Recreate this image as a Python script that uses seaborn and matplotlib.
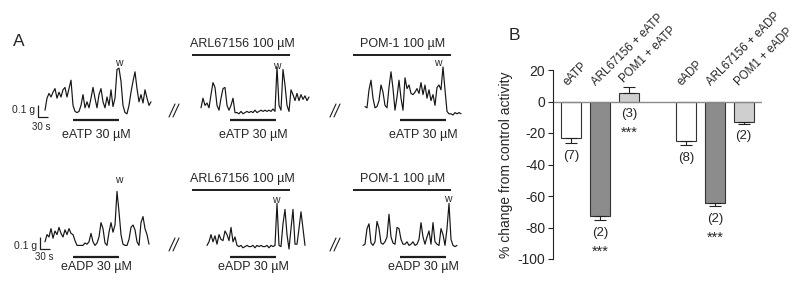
import numpy as np
import pandas as pd
import matplotlib
matplotlib.use("Agg")
import matplotlib.pyplot as plt
import seaborn as sns

sns.set_theme(style="ticks")
plt.rcParams["font.family"] = ["Liberation Sans", "DejaVu Sans"]
plt.rcParams["axes.unicode_minus"] = False

# ---- panel A: isometric tension traces (g), one sample every 6 s
dt = 6
atp_ctrl = [0.04, 0.14, 0.18, 0.15, 0.19, 0.22, 0.14, 0.19, 0.15, 0.21, 0.23, 0.15, 0.22, 0.29,
            0.08, 0.03, 0.02, 0.03, 0.08, 0.17, 0.06, 0.11, 0.06, 0.14, 0.23, 0.14, 0.06, 0.17,
            0.22, 0.11, 0.06, 0.15, 0.08, 0.21, 0.07, 0.14, 0.38, 0.39, 0.28, 0.08, 0.02, 0.01,
            0.08, 0.19, 0.28, 0.36, 0.22, 0.11, 0.17, 0.10, 0.21, 0.14, 0.08, 0.11]
atp_arl = [0.06, 0.14, 0.08, 0.10, 0.06, 0.17, 0.27, 0.23, 0.08, 0.04, 0.14, 0.22, 0.23, 0.08,
           0.04, 0.08, 0.14, 0.02, 0.02, 0.01, 0.03, 0.01, 0.02, 0.03, 0.02, 0.03, 0.02, 0.04,
           0.02, 0.03, 0.04, 0.03, 0.04, 0.03, 0.04, 0.03, 0.05, 0.03, 0.40, 0.08, 0.04, 0.38,
           0.25, 0.08, 0.03, 0.21, 0.17, 0.12, 0.18, 0.12, 0.17, 0.13, 0.16, 0.12, 0.15]
atp_pom = [0.07, 0.06, 0.21, 0.29, 0.14, 0.06, 0.07, 0.12, 0.25, 0.19, 0.08, 0.06, 0.23, 0.36,
           0.22, 0.04, 0.15, 0.29, 0.14, 0.04, 0.31, 0.22, 0.25, 0.18, 0.17, 0.19, 0.22, 0.18,
           0.27, 0.17, 0.25, 0.14, 0.21, 0.12, 0.17, 0.08, 0.23, 0.25, 0.21, 0.40, 0.21, 0.03,
           0.01, 0.01, 0.00, 0.02, 0.01, 0.02, 0.01]
adp_ctrl = [0.06, 0.12, 0.10, 0.17, 0.09, 0.15, 0.12, 0.18, 0.13, 0.10, 0.16, 0.12, 0.17, 0.13,
            0.12, 0.07, 0.03, 0.03, 0.03, 0.03, 0.05, 0.04, 0.06, 0.13, 0.06, 0.03, 0.05, 0.10,
            0.22, 0.17, 0.05, 0.03, 0.14, 0.22, 0.14, 0.20, 0.48, 0.31, 0.12, 0.04, 0.03, 0.03,
            0.08, 0.18, 0.20, 0.16, 0.06, 0.03, 0.22, 0.27, 0.17, 0.12, 0.04]
adp_arl = [0.03, 0.06, 0.12, 0.06, 0.11, 0.04, 0.12, 0.08, 0.07, 0.15, 0.12, 0.07, 0.18, 0.06,
           0.10, 0.03, 0.02, 0.03, 0.01, 0.02, 0.03, 0.02, 0.02, 0.03, 0.01, 0.03, 0.02, 0.03,
           0.02, 0.02, 0.03, 0.01, 0.03, 0.02, 0.03, 0.38, 0.03, 0.02, 0.21, 0.33, 0.12, 0.00,
           0.17, 0.33, 0.04, 0.04, 0.17, 0.31, 0.17, 0.03]
adp_pom = [0.03, 0.04, 0.17, 0.21, 0.05, 0.03, 0.06, 0.23, 0.17, 0.05, 0.04, 0.06, 0.10, 0.29,
           0.10, 0.05, 0.04, 0.18, 0.17, 0.08, 0.04, 0.04, 0.06, 0.03, 0.04, 0.06, 0.03, 0.04,
           0.08, 0.22, 0.10, 0.04, 0.10, 0.15, 0.04, 0.22, 0.06, 0.04, 0.03, 0.17, 0.12, 0.03,
           0.17, 0.38, 0.08, 0.03, 0.02, 0.03]

# ---- panel B: % change from control activity
conditions = ["eATP", "ARL67156 + eATP", "POM1 + eATP",
              "eADP", "ARL67156 + eADP", "POM1 + eADP"]
pct_change = [-23.0, -72.5, 5.6, -25.3, -64.6, -13.2]
sem = [3.5, 2.7, 3.4, 2.5, 1.9, 0.8]
n_exp = ["(7)", "(2)", "(3)", "(8)", "(2)", "(2)"]
signif = ["", "***", "***", "", "***", ""]

W, H = 800, 290
PX_G = 120      # px per g
PX_S = 1 / 3    # px per s
fig = plt.figure(figsize=(W / 100, H / 100), dpi=100)

# overlay in pixel units for panel A annotations
ov = fig.add_axes([0, 0, 1, 1])
ov.set_xlim(0, W)
ov.set_ylim(H, 0)
ov.axis("off")


def trace(vals, x0, base):
    t = np.arange(len(vals)) * dt
    w = t[-1] * PX_S
    ax = fig.add_axes([x0 / W, (H - base) / H, w / W, 70 / H])
    sns.lineplot(x=t, y=vals, ax=ax, color="#151515", lw=0.85)
    ax.lines[-1].set_clip_on(False)
    ax.set_xlim(0, t[-1])
    ax.set_ylim(0, 70 / PX_G)
    ax.axis("off")


rows = [
    dict(traces=[atp_ctrl, atp_arl, atp_pom], starts=[45, 201, 365], base=115,
         drug="eATP 30 µM", lab_y=44, top_y=55, stim_y=120, txt_y=135,
         w_pos=[(119, 63), (277, 66), (438, 63)], sb=(38, 117), g_txt=(35, 110), s_txt=(32, 127)),
    dict(traces=[adp_ctrl, adp_arl, adp_pom], starts=[45, 207, 363], base=249,
         drug="eADP 30 µM", lab_y=179, top_y=190, stim_y=257, txt_y=267,
         w_pos=[(119, 180), (276, 200), (448, 199)], sb=(40, 249), g_txt=(37, 246), s_txt=(35, 257)),
]
stim_x = [(73, 119), (230, 276), (400, 446)]
drug_x = [96, 253, 423]
top_bars = [("ARL67156 100 µM", 242, (192, 290)), ("POM-1 100 µM", 403, (353, 451))]
k = dict(color="#1e1e1e", lw=0.9, solid_capstyle="butt")

for r in rows:
    for vals, x0 in zip(r["traces"], r["starts"]):
        trace(vals, x0, r["base"])
    for (a, b), xc in zip(stim_x, drug_x):
        ov.plot([a, b], [r["stim_y"]] * 2, color="#1e1e1e", lw=1.6, solid_capstyle="butt")
        ov.text(xc, r["txt_y"], r["drug"], ha="center", va="center", fontsize=9)
    for name, xc, (a, b) in top_bars:
        ov.text(xc, r["lab_y"], name, ha="center", va="center", fontsize=9)
        ov.plot([a, b], [r["top_y"]] * 2, color="#1e1e1e", lw=1.4, solid_capstyle="butt")
    for xw, yw in r["w_pos"]:
        ov.text(xw, yw, "w", ha="center", va="center", fontsize=7.5)
    # scale bar 0.1 g / 30 s
    sx, sy = r["sb"]
    ov.plot([sx, sx, sx + 30 * PX_S], [sy - 0.1 * PX_G, sy, sy], **k)
    ov.text(*r["g_txt"], "0.1 g", ha="right", va="center", fontsize=7.5)
    ov.text(*r["s_txt"], "30 s", ha="left", va="center", fontsize=7)
    # break marks
    yb = r["base"]
    for xb in (169, 330):
        for d in (0, 4):
            ov.plot([xb + d, xb + d + 6], [yb + 2, yb - 11], color="#1e1e1e", lw=0.8)

ov.text(19, 41, "A", ha="center", va="center", fontsize=12.5)
ov.text(514, 36, "B", ha="center", va="center", fontsize=12.5)

# ---- panel B
axB = fig.add_axes([553 / W, 31 / H, 209 / W, 189 / H])
df = pd.DataFrame({"cond": conditions, "pct": pct_change})
order = conditions[:3] + [" "] + conditions[3:]
fills = {"eATP": "white", "ARL67156 + eATP": "#8c8c8c", "POM1 + eATP": "#cfcfcf",
         "eADP": "white", "ARL67156 + eADP": "#8c8c8c", "POM1 + eADP": "#cfcfcf"}
sns.barplot(data=df, x="cond", y="pct", hue="cond", order=order, hue_order=conditions,
            palette=fills, width=0.7, edgecolor="#333333", linewidth=0.8,
            saturation=1, legend=False, ax=axB)
pos = [order.index(c) for c in conditions]
lo = [e if v < 0 else 0 for v, e in zip(pct_change, sem)]
hi = [e if v > 0 else 0 for v, e in zip(pct_change, sem)]
axB.errorbar(pos, pct_change, yerr=[lo, hi], fmt="none", ecolor="#222222",
             elinewidth=0.8, capsize=4, capthick=0.8)
axB.axhline(0, color="#8a8a8a", lw=1)

for p, v, e, n, s, c in zip(pos, pct_change, sem, n_exp, signif, conditions):
    y_n = min(0, v - e) - 8
    axB.text(p, y_n, n, ha="center", va="center", fontsize=9.5)
    if s:
        axB.text(p, y_n - 12, s, ha="center", va="center", fontsize=10.5)
    y_l = 12 if v > 0 else 10
    axB.text(p - 0.15, y_l, c, rotation=45, rotation_mode="anchor",
             ha="left", va="baseline", fontsize=8.3)

axB.set_xlim(-0.64, 6.64)
axB.set_ylim(-100, 20)
axB.set_yticks(range(-100, 21, 20))
axB.tick_params(axis="y", labelsize=10, length=3.5, width=0.8, direction="out", pad=2)
axB.set_xticks([])
axB.set_xlabel("")
axB.set_ylabel("% change from control activity", fontsize=10, labelpad=3)
sns.despine(ax=axB, bottom=True)
axB.spines["left"].set_linewidth(0.8)
axB.spines["left"].set_color("#222222")

fig.savefig("out.png", dpi=100)
